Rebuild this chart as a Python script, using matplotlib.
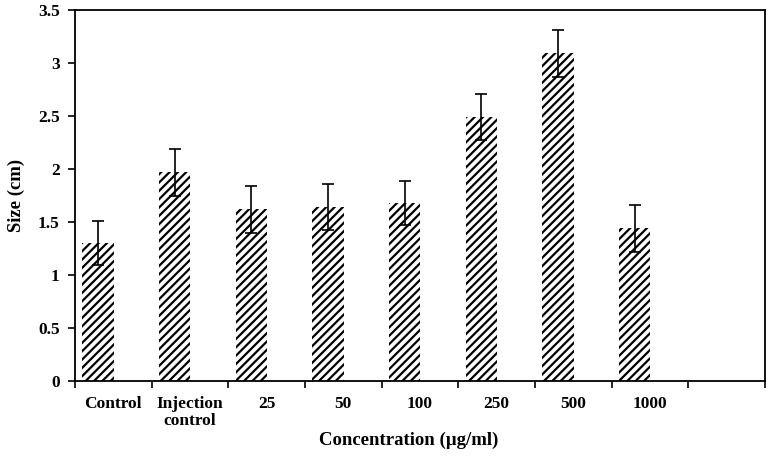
import matplotlib.pyplot as plt
import numpy as np

plt.rcParams['font.family'] = ['Liberation Serif', 'DejaVu Serif']
plt.rcParams['font.weight'] = 'bold'
plt.rcParams['hatch.linewidth'] = 1.6

# data
labels = ['Control', 'Injection\ncontrol', '25', '50', '100', '250', '500', '1000', '']
sizes = [1.30, 1.97, 1.62, 1.64, 1.68, 2.49, 3.09, 1.44]
errs = [0.21, 0.22, 0.22, 0.22, 0.21, 0.22, 0.22, 0.22]

fig = plt.figure(figsize=(7.71, 4.59), dpi=100)
ax = fig.add_axes([75 / 771, 1 - 381 / 459, 690 / 771, 371 / 459])

n = len(labels)
bw = 0.41
gap = 0.095
x = np.arange(len(sizes)) + gap
ax.bar(x, sizes, width=bw, align='edge', color='white', edgecolor='black',
       linewidth=0, hatch='////')
ax.errorbar(x + bw / 2, sizes, yerr=errs, fmt='none', ecolor='black',
            elinewidth=1.2, capsize=4, capthick=1.2)

ax.set_xlim(0, n)
ax.set_ylim(0, 3.5)
ax.set_yticks(np.arange(0, 3.51, 0.5))
ax.set_yticklabels(['0', '0.5', '1', '1.5', '2', '2.5', '3', '3.5'], fontsize=12.5)
ax.set_xticks(np.arange(n + 1))
ax.set_xticklabels([])
ax.set_xticks(np.arange(n) + 0.5, minor=True)
ax.set_xticklabels(labels, minor=True, fontsize=12.5, linespacing=1.05)
ax.tick_params(axis='x', which='minor', length=0, pad=11)
ax.tick_params(axis='x', which='major', direction='out', length=5, width=1.2)
ax.tick_params(axis='y', direction='out', length=5, width=1.2, pad=6)
for s in ax.spines.values():
    s.set_linewidth(1.3)

ax.set_xlabel('Concentration (µg/ml)', fontsize=13.5, fontweight='bold', va='center')
ax.xaxis.set_label_coords(0.483, -0.159)
ax.set_ylabel('Size (cm)', fontsize=13.5, fontweight='bold', va='center')
ax.yaxis.set_label_coords(-0.085, 0.5)

fig.savefig('out.png', dpi=100)
